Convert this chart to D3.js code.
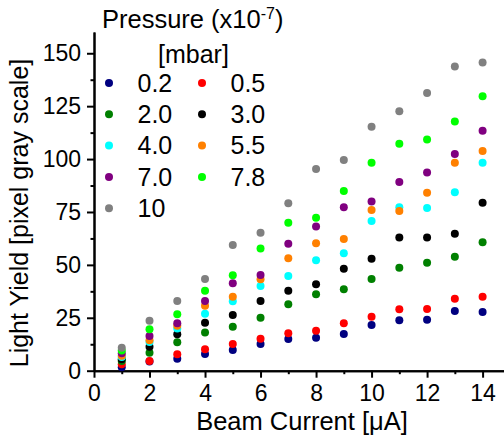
<!DOCTYPE html>
<html>
<head>
<meta charset="utf-8">
<script src="https://cdn.jsdelivr.net/npm/d3@7"></script>
<style>
  body { margin: 0; background: #fff; }
  svg { font-family: "Liberation Sans", Arial, sans-serif; }
</style>
</head>
<body>
<div id="chart"></div>
<script>
// Datos

const current = [1, 2, 3, 4, 5, 6, 7, 8, 9, 10, 11, 12, 13, 14];

const pressures = ["0.2", "0.5", "2.0", "3.0", "4.0", "5.5", "7.0", "7.8", "10"];
const colors = ["#000080", "#ff0000", "#008000", "#000000", "#00ffff", "#ff8000", "#800080", "#00ff00", "#808080"];

const y_02 = [1.6, 4.3, 5.7, 7.9, 9.8, 12.6, 15.0, 15.6, 17.3, 21.6, 23.8, 24.1, 28.2, 27.7];
const y_05 = [3.0, 4.6, 7.8, 10.1, 12.6, 15.1, 17.7, 18.9, 22.4, 25.5, 29.0, 29.2, 34.0, 35.0];
const y_20 = [4.6, 8.5, 13.4, 18.1, 20.8, 25.0, 31.4, 36.1, 38.5, 43.3, 48.7, 51.0, 53.9, 60.7];
const y_30 = [5.4, 11.3, 17.2, 22.7, 26.3, 32.9, 37.8, 40.8, 48.2, 52.9, 62.9, 62.9, 64.7, 79.4];
const y_40 = [6.5, 13.6, 20.0, 26.9, 32.8, 40.0, 44.8, 52.2, 55.5, 70.7, 77.2, 76.9, 84.3, 98.3];
const y_55 = [7.1, 14.4, 21.2, 30.7, 35.0, 43.2, 53.1, 60.2, 62.2, 75.9, 75.5, 84.1, 98.3, 103.8];
const y_70 = [8.2, 16.4, 22.4, 32.9, 41.3, 45.2, 60.0, 68.1, 77.2, 80.0, 89.2, 93.6, 102.4, 113.4];
const y_78 = [9.5, 19.6, 26.7, 37.8, 45.1, 57.7, 69.9, 72.3, 84.9, 98.3, 107.3, 109.2, 117.7, 129.7];
const y_10 = [10.9, 23.6, 32.9, 43.3, 59.4, 65.2, 79.1, 95.3, 99.6, 115.3, 122.6, 131.2, 143.7, 145.6];

const series = [y_02, y_05, y_20, y_30, y_40, y_55, y_70, y_78, y_10];

const xTicks = [0, 2, 4, 6, 8, 10, 12, 14];
const xMinor = [1, 3, 5, 7, 9, 11, 13];
const yTicks = [0, 25, 50, 75, 100, 125, 150];
const yMinor = [12.5, 37.5, 62.5, 87.5, 112.5, 137.5];

// Dimensiones

const WIDTH = 504;
const HEIGHT = 443;

const svg = d3.select("#chart")
  .append("svg")
  .attr("width", WIDTH)
  .attr("height", HEIGHT);

const x = d3.scaleLinear().domain([0, 14.8]).range([94, 504.8]);
const y = d3.scaleLinear().domain([0, 160]).range([370.7, 32.1]);

// Ejes

const xaxis = svg.append("g")
  .attr("transform", `translate(0, ${y(0)})`);
xaxis.call(d3.axisBottom(x).tickValues(xTicks).tickSize(7).tickSizeOuter(0).tickPadding(7));

const xminor = svg.append("g")
  .attr("transform", `translate(0, ${y(0)})`);
xminor.call(d3.axisBottom(x).tickValues(xMinor).tickSize(3.5).tickSizeOuter(0).tickFormat(""));

const yaxis = svg.append("g")
  .attr("transform", `translate(${x(0)}, 0)`);
yaxis.call(d3.axisLeft(y).tickValues(yTicks).tickSize(7).tickSizeOuter(0).tickPadding(6));

const yminor = svg.append("g")
  .attr("transform", `translate(${x(0)}, 0)`);
yminor.call(d3.axisLeft(y).tickValues(yMinor).tickSize(3.5).tickSizeOuter(0).tickFormat(""));

svg.selectAll(".domain, .tick line")
  .attr("stroke", "#000")
  .attr("stroke-width", 2);

svg.selectAll(".tick text")
  .attr("font-size", "23px")
  .attr("font-family", "Liberation Sans, Arial, sans-serif")
  .attr("fill", "#000");

// Títulos de ejes
svg.append("text")
  .attr("x", 302)
  .attr("y", 430)
  .attr("text-anchor", "middle")
  .attr("font-size", "25.5px")
  .text("Beam Current [\u03bcA]");

svg.append("text")
  .attr("transform", "translate(28, 213) rotate(-90)")
  .attr("text-anchor", "middle")
  .attr("font-size", "25px")
  .text("Light Yield [pixel gray scale]");

// Puntos
const dots = svg.append("g");
series.forEach((vals, i) => {
  dots.append("g")
    .selectAll("circle")
    .data(vals)
    .join("circle")
    .attr("cx", (d, j) => x(current[j]))
    .attr("cy", d => y(d))
    .attr("r", 4)
    .attr("fill", colors[i]);
});

// Leyenda
const legend = svg.append("g");

const title = legend.append("text")
  .attr("x", 102)
  .attr("y", 28)
  .attr("font-size", "25.5px");
title.append("tspan").text("Pressure (x10");
title.append("tspan").attr("font-size", "16px").attr("dy", -9).text("-7");
title.append("tspan").attr("dy", 9).text(")");

legend.append("text")
  .attr("x", 158)
  .attr("y", 63)
  .attr("font-size", "25px")
  .text("[mbar]");

const items = legend.selectAll("g.item")
  .data(pressures)
  .join("g")
  .attr("class", "item")
  .attr("transform", (d, i) => `translate(${i % 2 === 0 ? 109 : 202}, ${83 + Math.floor(i / 2) * 31.3})`);

items.append("circle")
  .attr("r", 4)
  .attr("fill", (d, i) => colors[i]);

items.append("text")
  .attr("x", 28.5)
  .attr("y", 8.7)
  .attr("font-size", "25px")
  .text(d => d);
</script>
</body>
</html>
